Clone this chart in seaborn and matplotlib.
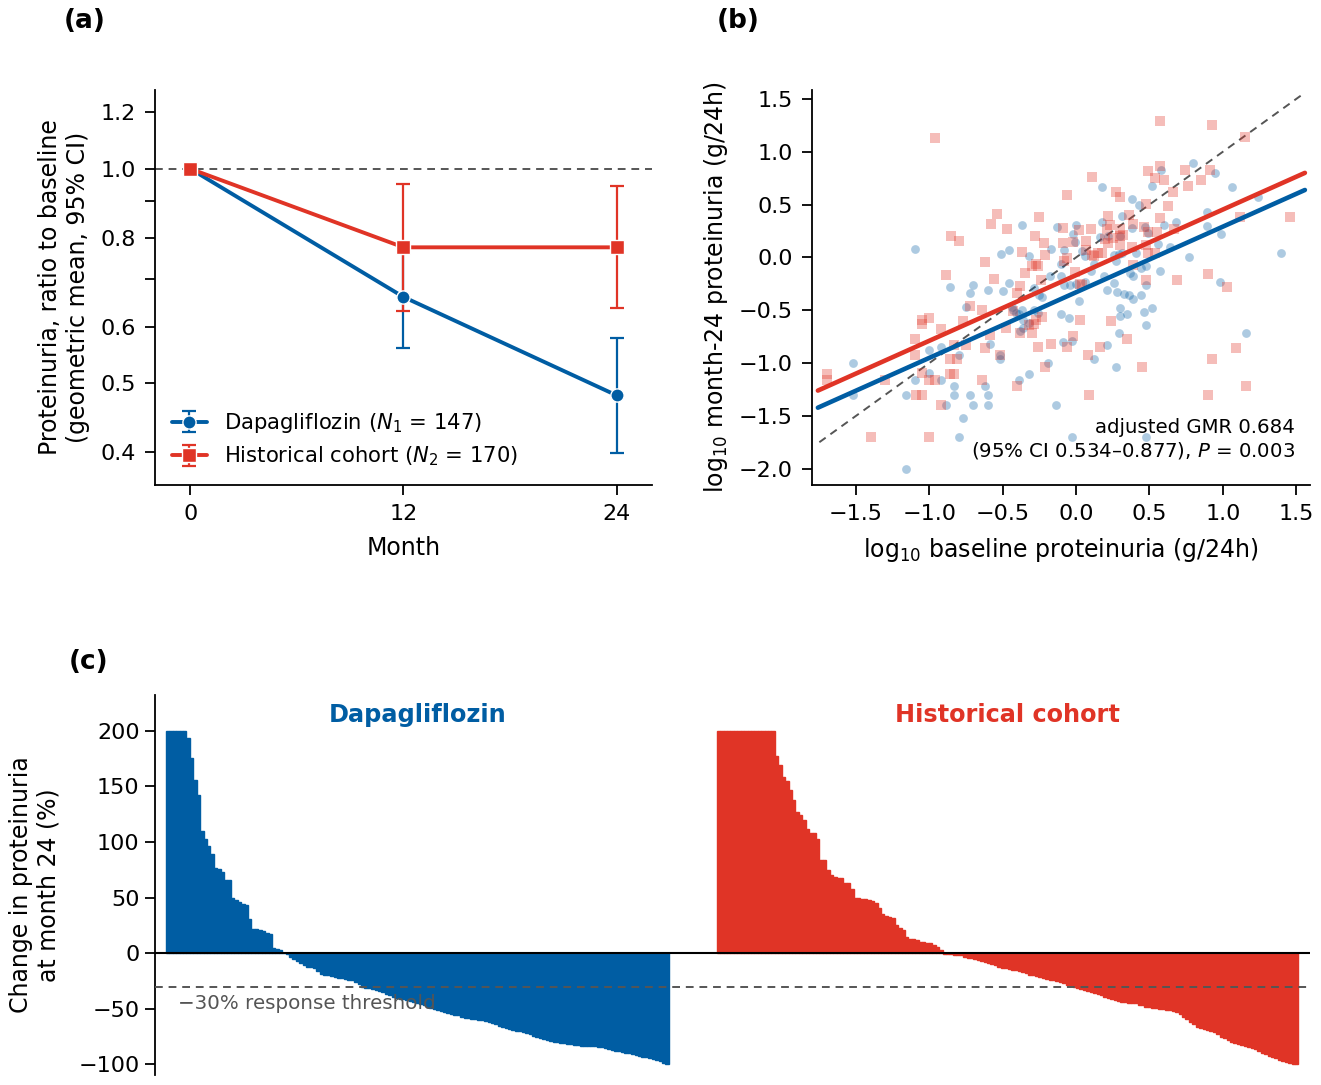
import numpy as np
import pandas as pd
import matplotlib
matplotlib.use("Agg")
import matplotlib.pyplot as plt
from matplotlib.ticker import FixedLocator, FixedFormatter, NullLocator
from matplotlib.legend_handler import HandlerTuple
import seaborn as sns

BLUE = "#005DA3"
RED = "#E03426"
GRAY = "#555555"

# ---------------- Panel (a) data ----------------
months = [0, 12, 24]
dapa_gm = [1.0, 0.661, 0.481]
dapa_lo = [1.0, 0.560, 0.399]
dapa_hi = [1.0, 0.780, 0.578]
hist_gm = [1.0, 0.776, 0.776]
hist_lo = [1.0, 0.632, 0.637]
hist_hi = [1.0, 0.952, 0.947]

# ---------------- Panel (b) data ----------------
blue_x = [-1.10, -1.52, -1.52, -1.16, -1.16, -1.10, -1.00, -0.92, -1.00, -0.92,
          -0.83, -0.83, -0.89, -0.80, -0.72, -0.70, -0.62, -0.60, -0.60, -0.77,
          -0.80, -0.14, -0.39, -0.32, -0.19, -0.52, -0.52, -0.59, -0.75, -0.72,
          -0.70, -0.60, -0.86, -0.50, -0.46, -0.51, -0.46, -0.37, -0.32, -0.13,
          -0.17, -0.10, -0.08, 0.00, -0.02, -0.01, 0.04, 0.06, 0.06, 0.02,
          0.10, 0.18, 0.18, 0.16, 0.19, 0.21, 0.26, 0.28, 0.31, 0.30,
          0.31, 0.37, 0.38, 0.43, 0.47, 0.49, 0.44, 0.44, 0.48, 0.39,
          0.33, 0.36, 0.30, 0.30, 0.35, 0.46, 0.52, 0.48, 0.52, 0.58,
          0.60, 0.56, 0.57, 0.64, 0.68, 0.77, 0.80, 0.89, 0.89, 0.95,
          0.99, 1.06, 0.98, 1.16, 1.40, 1.24, 0.29, 0.27, 0.12, -0.03,
          -0.09, -0.05, -0.10, 0.48, -0.03, -0.36, -0.38, -0.32, -0.26, -0.29,
          -0.37, -0.41, -0.43, -0.25, -0.23, -0.29, -0.18, -0.04, 0.00, 0.26,
          0.27, 0.22, 0.39, 0.41, 0.21, 0.38, 0.29, 0.12, 0.48, -0.08,
          -0.10, -0.44, -0.39, -0.36]
blue_y = [0.08, -1.00, -1.30, -1.30, -2.00, -1.16, -0.88, -0.85, -1.09, -1.16,
          -1.22, -1.30, -1.40, -0.92, -1.30, -1.40, -1.22, -1.30, -1.40, -1.52,
          -1.70, -1.40, -1.16, -1.10, -1.00, -0.96, -0.92, -0.82, -0.47, -0.34,
          -0.26, -0.31, -0.28, -0.32, -0.24, 0.03, 0.07, 0.31, 0.01, 0.29,
          0.08, -0.18, -0.26, 0.31, 0.22, 0.15, 0.06, 0.01, -0.23, -0.41,
          -0.13, 0.67, 0.34, 0.19, -0.18, -0.31, -0.24, -0.33, 0.39, 0.20,
          0.04, -0.15, 0.55, 0.50, 0.29, 0.23, -0.10, -0.36, -0.26, -0.39,
          -0.35, -0.36, -0.48, -0.55, -0.54, -0.52, -0.48, -0.64, 0.68, 0.83,
          0.31, 0.13, -0.13, 0.10, 0.34, 0.00, 0.89, 0.43, 0.30, 0.80,
          0.22, 0.67, -0.23, -0.72, 0.04, 0.57, -0.72, -1.04, -0.96, -0.79,
          -0.80, -0.57, -0.54, -1.70, -1.70, -0.59, -0.70, -0.62, -0.53, -0.50,
          -0.50, -0.53, -0.50, -0.36, -0.37, -0.29, -0.18, -0.26, -0.25, 0.02,
          -0.03, 0.20, -0.18, 0.04, -0.83, 0.28, 0.03, -0.06, -0.08, 0.07,
          -0.06, -0.47, -0.54, -0.67]

red_x = [-0.96, 0.57, 0.93, 1.15, 0.57, 0.74, 0.91, 0.49, 0.54, 0.60,
         0.85, 0.76, 0.11, 0.27, 0.30, 0.66, 0.48, 0.63, -0.06, -0.54,
         -0.25, -0.58, -0.47, -0.85, -0.80, -0.28, -0.22, -0.37, -0.21, -0.56,
         -0.89, -0.62, -0.09, 0.02, 0.07, -0.02, -0.09, 0.22, 0.23, 0.36,
         0.39, 0.46, 0.57, 0.49, 0.55, 0.49, 0.54, 0.67, 0.90, 0.69,
         1.03, 1.46, 1.12, 0.90, 1.16, 1.09, 0.93, 0.45, 0.35, 0.24,
         0.09, 0.16, 0.08, 0.03, -0.02, -0.06, -0.17, -0.21, -0.26, -0.40,
         -0.35, -0.30, -0.26, -0.24, -0.08, -0.01, 0.04, 0.15, 0.18, 0.20,
         0.25, 0.12, 0.30, 0.32, 0.38, 0.39, 0.48, -0.29, -0.23, -0.38,
         -0.30, -0.32, -0.38, -0.40, -0.43, -0.48, -0.52, -0.64, -0.62, -0.59,
         -0.72, -0.77, -0.75, -0.83, -0.81, -0.86, -0.83, -0.92, -1.00, -1.05,
         -1.05, -1.10, -1.10, -1.05, -1.00, -0.96, -1.09, -1.05, -0.92, -1.40,
         -1.00, -0.64, -1.70, -1.70, -1.30, 0.10, 0.21, 0.30, 0.22, 0.30,
         0.48, 0.07, 0.11, -0.06, 0.03, -0.27, -0.86, -0.27]
red_y = [1.13, 1.29, 1.25, 1.14, 0.87, 0.83, 0.83, 0.82, 0.75, 0.73,
         0.73, 0.68, 0.76, 0.62, 0.57, 0.62, 0.51, 0.49, 0.59, 0.41,
         0.38, 0.32, 0.27, 0.20, 0.16, 0.20, 0.14, 0.05, 0.02, -0.20,
         -0.17, -0.04, 0.28, 0.26, 0.16, 0.15, 0.14, 0.39, 0.31, 0.40,
         0.32, 0.29, 0.37, 0.24, 0.24, 0.04, 0.04, 0.27, -0.16, -0.21,
         -0.28, 0.38, 0.38, -1.30, -1.22, -0.86, -0.96, -1.04, -0.77, -0.60,
         -1.30, -0.85, -0.92, -0.59, -0.74, -0.85, -0.82, -1.04, -0.85, -1.22,
         -0.15, -0.08, -0.08, -0.21, -0.03, -0.14, -0.26, 0.04, 0.04, 0.17,
         0.18, 0.01, 0.12, 0.21, 0.10, -0.07, -0.21, -0.63, -0.56, -0.72,
         -0.72, -0.64, -0.27, -0.34, -0.51, -0.67, -0.92, -0.50, -0.86, -0.73,
         -0.46, -0.60, -0.83, -0.83, -0.96, -1.10, -1.10, -0.68, -0.57, -0.63,
         -0.59, -0.77, -0.92, -1.09, -1.16, -1.16, -1.30, -1.30, -1.40, -1.70,
         -1.70, -1.16, -1.10, -1.16, -1.16, 0.27, 0.27, 0.27, 0.14, 0.20,
         0.12, 0.07, 0.02, -0.01, -0.25, -0.06, -0.96, -0.59]

fit_x = [-1.76, 1.56]
fit_slope = 0.621
fit_int_dapa = -0.330
fit_int_hist = -0.168
identity_x = [-1.75, 1.54]

# ---------------- Panel (c) data ----------------
dapa_change = [200, 200, 200, 200, 200, 200, 193, 175, 156, 142,
               110, 103, 96, 89, 77, 76, 73, 66, 66, 50,
               48, 46, 44, 43, 31, 22, 22, 21, 20, 18,
               17, 5, 4, 3, 0.5,
               -1, -3, -5, -7, -9, -11, -12, -12.5, -13, -16,
               -19, -20, -20, -20.5, -21, -22, -22.5, -23, -24, -24.5,
               -26, -28, -30, -31, -31.5, -32, -33, -34, -35, -36.5,
               -38, -39, -40, -41, -41.5, -42, -43, -44, -45, -46,
               -47, -48, -49, -50, -51, -52, -52.5, -54, -55, -55.5,
               -56, -57, -58, -58.5, -59, -59.5, -60, -60.5, -61, -62,
               -63, -64, -65, -66, -67, -68.5, -69, -69.5, -70, -71,
               -72, -73, -74, -75, -76, -77, -78, -79, -79.5, -80,
               -80.5, -81, -81.5, -82, -82.5, -82.5, -83, -83, -83, -83.5,
               -83.5, -84, -84.5, -85, -86, -87, -87.5, -88, -89, -89.5,
               -90, -91, -91.5, -92, -93, -93.5, -94, -95, -96, -97,
               -98.5, -100]
hist_change = [200] * 17 + [
               177.5, 169.5, 158, 155, 147, 138, 127, 124.5, 120, 112,
               108, 108, 102.5, 84, 84, 75, 70.5, 68.5, 68, 67.5,
               63, 63, 58, 50, 49.5, 49, 48.5, 48, 47, 45,
               40.5, 35.5, 33, 32.5, 32, 25, 22.5, 20.5, 14.5, 13,
               12.5, 12, 10.5, 10, 9.5, 9, 7.5, 6, 3,
               -0.5, -1, -1, -1.5, -1.5, -2, -3, -4, -4.5, -5,
               -6, -7, -8, -9, -10, -11, -12, -13, -13.5, -14,
               -15, -15.5, -16, -17, -18, -19.5, -20, -20.5, -21.5, -22.5,
               -23, -24, -24.5, -25, -26, -27, -28.5, -29, -30, -31.5,
               -32, -33, -34, -34.5, -35.5, -36.5, -37.5, -39, -40, -41,
               -42, -43, -43.5, -44, -44.5, -44.5, -45, -46.5, -47, -48,
               -48.5, -49, -49.5, -50, -50.5, -51, -51.5, -52, -53, -55,
               -57, -59.5, -62, -64, -66, -67, -68, -69, -70, -70.5,
               -73, -75, -76.5, -78, -79.5, -80.5, -81.5, -82.5, -83, -84,
               -85, -86, -88, -89.5, -91, -92.5, -93.5, -94.5, -96, -96.5,
               -97.5, -98.5, -99.5, -100]
group_gap = 14
response_threshold = -30

# ---------------- Style ----------------
sns.set_theme(style="ticks")
plt.rcParams["font.family"] = ["DejaVu Sans"]
plt.rcParams.update({
    "font.size": 16,
    "axes.labelsize": 17,
    "xtick.labelsize": 16,
    "ytick.labelsize": 16,
    "axes.linewidth": 1.3,
    "xtick.major.width": 1.3,
    "ytick.major.width": 1.3,
    "xtick.major.size": 7,
    "ytick.major.size": 7,
    "xtick.major.pad": 7,
    "ytick.major.pad": 7,
    "axes.edgecolor": "black",
    "xtick.color": "black",
    "ytick.color": "black",
    "axes.labelcolor": "black",
    "text.color": "black",
})

fig = plt.figure(figsize=(13.21, 10.85), dpi=100)
ax_a = fig.add_axes([0.1173, 0.553, 0.3763, 0.364])
ax_b = fig.add_axes([0.6147, 0.553, 0.3770, 0.364])
ax_c = fig.add_axes([0.1173, 0.0092, 0.8744, 0.3502])

# ---------------- Panel (a) ----------------
df_a = pd.DataFrame({
    "month": months * 2,
    "gm": dapa_gm + hist_gm,
    "group": ["Dapagliflozin"] * 3 + ["Historical"] * 3,
})
ax_a.axhline(1.0, color=GRAY, lw=1.4, ls=(0, (4, 3)), zorder=1)

err_handles = []
for gm, lo, hi, col in [(dapa_gm, dapa_lo, dapa_hi, BLUE), (hist_gm, hist_lo, hist_hi, RED)]:
    x = np.array(months[1:])
    g = np.array(gm[1:])
    yerr = [g - np.array(lo[1:]), np.array(hi[1:]) - g]
    eb = ax_a.errorbar(x, g, yerr=yerr, fmt="none", ecolor=col, elinewidth=1.6,
                       capsize=5, capthick=1.6, zorder=2)
    err_handles.append(eb)

n_before = len(ax_a.lines)
sns.lineplot(data=df_a, x="month", y="gm", hue="group", style="group",
             palette={"Dapagliflozin": BLUE, "Historical": RED},
             markers={"Dapagliflozin": "o", "Historical": "s"}, dashes=False,
             lw=2.8, markersize=9.5, markeredgecolor="white", markeredgewidth=1.0,
             legend=False, ax=ax_a, zorder=3)
series_lines = ax_a.lines[n_before:]
ax_a.set_yscale("log")
ax_a.set_ylim(0.36, 1.29)
ax_a.set_xlim(-2, 26)
yt = [0.4, 0.5, 0.6, 0.7, 0.8, 0.9, 1.0, 1.2]
ax_a.yaxis.set_major_locator(FixedLocator(yt))
ax_a.yaxis.set_major_formatter(FixedFormatter(["0.4", "0.5", "0.6", "", "0.8", "", "1.0", "1.2"]))
ax_a.yaxis.set_minor_locator(NullLocator())
ax_a.set_xticks(months)
ax_a.set_xlabel("Month", labelpad=8)
ax_a.set_ylabel("Proteinuria, ratio to baseline\n(geometric mean, 95% CI)", labelpad=7)
sns.despine(ax=ax_a)
ax_a.legend([(err_handles[0], series_lines[0]), (err_handles[1], series_lines[1])],
            ["Dapagliflozin ($N_1$ = 147)", "Historical cohort ($N_2$ = 170)"],
            handler_map={tuple: HandlerTuple(ndivide=1, pad=0)},
            loc="lower left", frameon=False, fontsize=15.2, handlelength=1.65,
            handletextpad=0.8, borderaxespad=0.4, labelspacing=0.45)

# ---------------- Panel (b) ----------------
ax_b.plot(identity_x, identity_x, color=GRAY, lw=1.4, ls=(0, (4, 3)), zorder=1)
sns.scatterplot(x=blue_x, y=blue_y, color=BLUE, alpha=0.32, s=40, marker="o",
                linewidth=0, ax=ax_b, zorder=2)
sns.scatterplot(x=red_x, y=red_y, color=RED, alpha=0.32, s=44, marker="s",
                linewidth=0, ax=ax_b, zorder=2)
fx = np.array(fit_x)
sns.lineplot(x=fx, y=fit_int_dapa + fit_slope * fx, color=BLUE, lw=3.3, ax=ax_b, zorder=3)
sns.lineplot(x=fx, y=fit_int_hist + fit_slope * fx, color=RED, lw=3.3, ax=ax_b, zorder=3)
ax_b.set_xlim(-1.80, 1.595)
ax_b.set_ylim(-2.155, 1.585)
ax_b.set_xticks([-1.5, -1.0, -0.5, 0.0, 0.5, 1.0, 1.5])
ax_b.set_yticks([-2.0, -1.5, -1.0, -0.5, 0.0, 0.5, 1.0, 1.5])
ax_b.set_xlabel("log$_{10}$ baseline proteinuria (g/24h)", labelpad=8)
ax_b.set_ylabel("log$_{10}$ month-24 proteinuria (g/24h)", labelpad=6)
sns.despine(ax=ax_b)
ax_b.text(0.97, 0.06, "adjusted GMR 0.684\n(95% CI 0.534–0.877), $P$ = 0.003",
          transform=ax_b.transAxes, ha="right", va="bottom", fontsize=14.2)

# ---------------- Panel (c) ----------------
pos_d = np.arange(len(dapa_change))
pos_h = len(dapa_change) + group_gap + np.arange(len(hist_change))
sns.barplot(x=pos_d, y=dapa_change, native_scale=True, width=1.0, color=BLUE,
            saturation=1, edgecolor=BLUE, linewidth=1.0, errorbar=None, ax=ax_c)
sns.barplot(x=pos_h, y=hist_change, native_scale=True, width=1.0, color=RED,
            saturation=1, edgecolor=RED, linewidth=1.0, errorbar=None, ax=ax_c)
ax_c.axhline(0, color="black", lw=1.5, zorder=4)
ax_c.axhline(response_threshold, color=GRAY, lw=1.4, ls=(0, (4, 3)), zorder=4)
ax_c.set_xlim(-3.7, 333.9)
ax_c.set_ylim(-109.5, 232)
ax_c.set_yticks([-100, -50, 0, 50, 100, 150, 200])
ax_c.tick_params(axis="y", pad=4)
ax_c.set_xticks([])
ax_c.set_xlabel("")
ax_c.set_ylabel("Change in proteinuria\nat month 24 (%)", labelpad=13)
sns.despine(ax=ax_c, bottom=True)
ax_c.text(3, -45.5, "\u221230% response threshold", color=GRAY, fontsize=14.3,
          ha="left", va="center", zorder=5)
ax_c.text(pos_d.mean(), 214, "Dapagliflozin", color=BLUE, fontsize=17.3,
          fontweight="bold", ha="center", va="center")
ax_c.text(pos_h.mean(), 214, "Historical cohort", color=RED, fontsize=17.3,
          fontweight="bold", ha="center", va="center")

# ---------------- Panel labels ----------------
fig.text(0.064, 0.981, "(a)", fontsize=19, fontweight="bold", ha="center", va="center")
fig.text(0.559, 0.981, "(b)", fontsize=19, fontweight="bold", ha="center", va="center")
fig.text(0.067, 0.390, "(c)", fontsize=19, fontweight="bold", ha="center", va="center")

fig.savefig("out.png", dpi=100)
